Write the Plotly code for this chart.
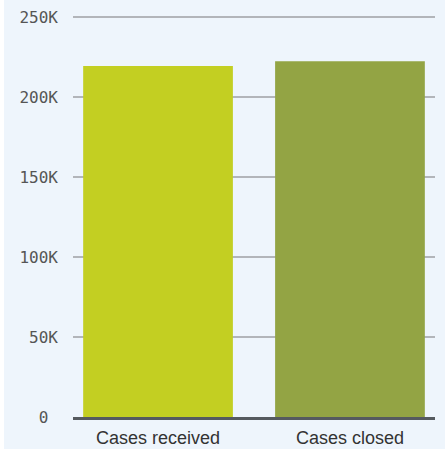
import plotly.graph_objects as go

categories = ["Cases received", "Cases closed"]
values = [219500, 222500]
colors = ["#c3cf22", "#93a444"]
tick_vals = [0, 50000, 100000, 150000, 200000, 250000]
tick_text = ["0\u00a0", "50K", "100K", "150K", "200K", "250K"]

fig = go.Figure(go.Bar(x=categories, y=values, marker_color=colors, width=0.78,
                       marker_line_width=0))
fig.update_layout(
    width=441, height=449,
    margin=dict(l=69, r=10, t=14, b=32),
    paper_bgcolor="#eef5fc", plot_bgcolor="#eef5fc",
    showlegend=False,
)
fig.update_xaxes(range=[-0.443, 1.443], showline=True, linecolor="#555a5f", linewidth=2.5,
                 tickfont=dict(family="Liberation Sans, Arial", size=18, color="#333333"),
                 ticks="", showgrid=False, automargin=False, ticklabelstandoff=3)
fig.update_yaxes(range=[0, 252000], tickvals=tick_vals, ticktext=tick_text,
                 gridcolor="#b2b5ba", gridwidth=1.5, zeroline=False,
                 tickfont=dict(family="DejaVu Sans Mono", size=16, color="#555555"),
                 ticklabelstandoff=14, automargin=False)
fig.write_html("out.html",
               post_script="document.body.style.margin='0 0 0 4px';document.body.style.background='#ffffff';")
